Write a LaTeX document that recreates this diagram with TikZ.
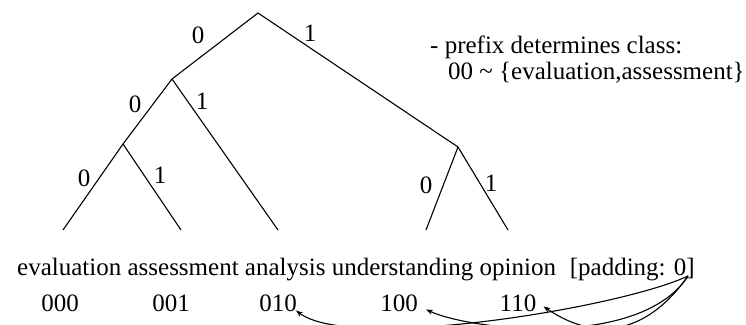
\documentclass[tikz,border=0pt]{standalone}
\usepackage{fontspec}
\setmainfont{Liberation Serif}
\usetikzlibrary{arrows.meta}
\begin{document}
\begin{tikzpicture}[x=1pt,y=-1pt,
  font=\fontsize{25}{30}\selectfont,
  edge/.style={line width=1.1pt},
  lbl/.style={inner sep=0pt},
  txt/.style={inner sep=0pt, anchor=base west},
  code/.style={inner sep=0pt, anchor=base},
  arr/.style={line width=1.1pt, -{Stealth[length=7pt,width=5pt]}}]
\useasboundingbox (0,0) rectangle (746,324);
\clip (0,0) rectangle (746,324);
% tree points
\coordinate (root) at (258,13);
\coordinate (n0) at (172,79);
\coordinate (n1) at (458,147);
\coordinate (n00) at (123,144);
\coordinate (l000) at (63,230);
\coordinate (l001) at (181,230);
\coordinate (l01) at (278,230);
\coordinate (l10) at (426,230);
\coordinate (l11) at (508,230);
\draw[edge] (root) -- (n0);
\draw[edge] (root) -- (n1);
\draw[edge] (n0) -- (n00);
\draw[edge] (n0) -- (l01);
\draw[edge] (n00) -- (l000);
\draw[edge] (n00) -- (l001);
\draw[edge] (n1) -- (l10);
\draw[edge] (n1) -- (l11);
% branch labels
\node[lbl] (e0) at (198,35) {0};
\node[lbl] (e1) at (310,33) {1};
\node[lbl] (e00) at (135,104) {0};
\node[lbl] (e01) at (202,101) {1};
\node[lbl] (e000) at (84,178) {0};
\node[lbl] (e001) at (160,175) {1};
\node[lbl] (e10) at (426,185) {0};
\node[lbl] (e11) at (491,183) {1};
% note
\node[txt] (note1) at (430,53) {- prefix determines class:};
\node[txt] (note2) at (448,79) {00 \textasciitilde{} \{evaluation,assessment\}};
% words
\node[txt] (words) at (17,275) {evaluation assessment analysis understanding opinion};
\node[inner sep=0pt, anchor=base east] (pad) at (695,275) {[padding: 0]};
\coordinate (zero) at (688,276);
% codes
\node[code] (c000) at (60,311) {000};
\node[code] (c001) at (171,311) {001};
\node[code] (c010) at (278,311) {010};
\node[code] (c100) at (399,311) {100};
\node[code] (c110) at (518,311) {110};
% arrows
\draw[arr] (zero) .. controls (620,308) and (350,352) .. ([shift={(-1,-1)}]c010.south east);
\draw[arr] (zero) .. controls (640,350) and (470,330) .. ([shift={(8,-2)}]c100.south east);
\draw[arr] (zero) .. controls (650,330) and (600,345) .. ([shift={(7,-5)}]c110.south east);
\end{tikzpicture}
\end{document}
